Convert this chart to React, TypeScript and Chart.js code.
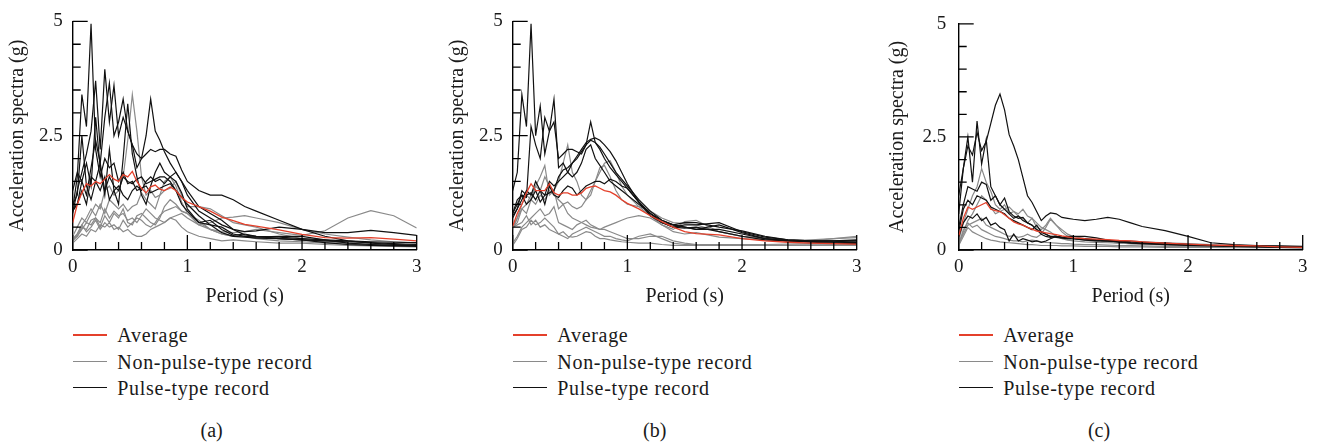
import React, { useEffect, useRef } from "react";
import { Chart, registerables } from "chart.js";

Chart.register(...registerables);

// Periods (s) shared by all records
const PERIODS = [0, 0.04, 0.08, 0.12, 0.16, 0.2, 0.24, 0.28, 0.32, 0.36, 0.4, 0.44, 0.48, 0.52, 0.56, 0.6, 0.64, 0.68, 0.72, 0.76, 0.8, 0.85, 0.9, 0.95, 1.0, 1.1, 1.2, 1.3, 1.4, 1.5, 1.6, 1.8, 2.0, 2.2, 2.4, 2.6, 2.8, 3.0];

const X_TICKS = [0, 1, 2, 3];
const Y_TICKS = [0, 2.5, 5];

const LEGEND_LABELS = ["Average", "Non-pulse-type record", "Pulse-type record"];
const X_TITLE = "Period (s)";
const Y_TITLE = "Acceleration spectra (g)";
const CAPTIONS = ["(a)", "(b)", "(c)"];

// ---------- Panel (a) ----------
const A_AVG = [0.6, 1.0, 1.25, 1.45, 1.4, 1.5, 1.45, 1.55, 1.65, 1.55, 1.5, 1.65, 1.6, 1.72, 1.5, 1.35, 1.25, 1.38, 1.42, 1.33, 1.3, 1.38, 1.3, 1.15, 1.05, 0.95, 0.85, 0.72, 0.64, 0.56, 0.52, 0.44, 0.34, 0.27, 0.26, 0.27, 0.24, 0.2];
const A_PULSE_1 = [0.9, 1.6, 3.4, 2.7, 4.95, 2.2, 1.6, 2.0, 1.8, 1.9, 1.5, 1.7, 1.45, 1.5, 1.3, 1.35, 1.4, 1.25, 1.3, 1.35, 1.4, 1.45, 1.3, 1.15, 1.0, 0.75, 0.55, 0.38, 0.3, 0.28, 0.26, 0.25, 0.22, 0.16, 0.12, 0.1, 0.09, 0.08];
const A_PULSE_2 = [0.8, 1.3, 1.7, 2.1, 2.6, 3.7, 2.2, 3.95, 2.8, 3.6, 2.5, 2.9, 2.6, 2.3, 2.1, 2.0, 2.1, 2.2, 2.15, 2.2, 2.2, 2.1, 2.05, 1.75, 1.5, 1.3, 1.2, 1.2, 1.1, 0.95, 0.85, 0.65, 0.45, 0.3, 0.2, 0.15, 0.12, 0.1];
const A_PULSE_3 = [0.9, 1.0, 1.5, 1.2, 1.8, 2.4, 1.9, 2.9, 3.65, 2.5, 2.8, 3.3, 2.6, 2.3, 1.8, 2.0, 2.5, 3.3, 2.6, 2.4, 2.15, 1.9, 1.7, 1.5, 1.2, 0.85, 0.7, 0.55, 0.45, 0.4, 0.42, 0.5, 0.45, 0.38, 0.38, 0.43, 0.38, 0.32];
const A_PULSE_4 = [1.3, 1.7, 1.5, 1.9, 1.4, 2.9, 1.8, 1.2, 2.2, 1.3, 1.0, 2.0, 3.2, 2.1, 1.6, 1.2, 1.0, 1.4, 1.7, 1.9, 1.7, 1.6, 1.5, 1.25, 0.9, 0.6, 0.55, 0.5, 0.35, 0.3, 0.28, 0.3, 0.3, 0.22, 0.15, 0.12, 0.1, 0.1];
const A_PULSE_5 = [0.85, 1.0, 1.3, 1.0, 1.6, 1.5, 1.9, 1.3, 1.6, 1.4, 1.3, 1.6, 1.5, 1.45, 1.55, 1.6, 1.45, 1.5, 1.55, 1.6, 1.6, 1.5, 1.3, 1.0, 0.85, 0.6, 0.65, 0.45, 0.32, 0.35, 0.3, 0.25, 0.22, 0.2, 0.18, 0.16, 0.14, 0.12];
const A_PULSE_6 = [1.0, 1.2, 2.5, 1.4, 1.1, 1.5, 1.3, 1.6, 1.1, 1.3, 1.4, 1.2, 1.1, 1.3, 1.4, 1.3, 1.5, 1.6, 1.5, 1.55, 1.45, 1.6, 1.7, 1.5, 1.3, 0.95, 0.8, 0.65, 0.45, 0.33, 0.3, 0.28, 0.25, 0.22, 0.2, 0.18, 0.17, 0.16];
const A_NONPULSE_1 = [0.3, 0.5, 0.7, 0.6, 0.8, 1.0, 0.9, 1.3, 1.4, 1.2, 1.3, 1.6, 2.4, 3.4, 2.6, 1.6, 1.2, 1.3, 1.15, 1.2, 1.3, 1.35, 1.5, 1.2, 0.95, 0.95, 0.9, 0.75, 0.6, 0.55, 0.5, 0.35, 0.25, 0.2, 0.15, 0.12, 0.1, 0.08];
const A_NONPULSE_2 = [0.25, 0.3, 0.5, 0.45, 0.65, 0.7, 0.6, 0.9, 0.7, 0.85, 0.75, 0.8, 0.65, 0.7, 0.6, 0.75, 0.9, 0.8, 0.7, 0.65, 0.6, 0.7, 0.75, 0.8, 0.7, 0.55, 0.45, 0.4, 0.38, 0.4, 0.45, 0.38, 0.32, 0.42, 0.7, 0.86, 0.75, 0.48];
const A_NONPULSE_3 = [0.2, 0.35, 0.55, 0.7, 0.9, 0.75, 1.0, 0.8, 1.1, 1.0, 0.9, 1.0, 0.85, 0.95, 1.0, 1.25, 1.1, 1.0, 0.9, 1.2, 1.5, 1.6, 1.4, 1.05, 0.8, 0.55, 0.6, 0.7, 0.72, 0.75, 0.7, 0.6, 0.45, 0.35, 0.28, 0.22, 0.18, 0.15];
const A_NONPULSE_4 = [0.2, 0.3, 0.45, 0.6, 0.55, 0.7, 0.5, 0.75, 0.6, 0.8, 0.7, 0.9, 0.6, 0.55, 0.75, 0.8, 0.7, 0.6, 0.55, 0.7, 0.95, 1.1, 1.0, 0.85, 0.8, 0.65, 0.45, 0.35, 0.3, 0.3, 0.28, 0.25, 0.22, 0.18, 0.15, 0.12, 0.1, 0.09];
const A_NONPULSE_5 = [0.15, 0.25, 0.35, 0.3, 0.45, 0.4, 0.55, 0.5, 0.6, 0.45, 0.5, 0.4, 0.45, 0.35, 0.3, 0.3, 0.35, 0.45, 0.5, 0.55, 0.6, 0.7, 0.65, 0.5, 0.4, 0.3, 0.25, 0.2, 0.22, 0.2, 0.18, 0.15, 0.15, 0.12, 0.1, 0.09, 0.08, 0.07];
const A_NONPULSE_6 = [0.25, 0.35, 0.55, 0.4, 0.5, 0.65, 0.45, 0.6, 0.5, 0.55, 0.45, 0.65, 0.5, 0.6, 0.7, 0.65, 0.55, 0.5, 0.6, 0.75, 0.85, 0.9, 0.95, 0.85, 0.8, 0.6, 0.45, 0.35, 0.3, 0.3, 0.25, 0.2, 0.18, 0.15, 0.13, 0.12, 0.11, 0.1];

// ---------- Panel (b) ----------
const B_AVG = [0.52, 0.8, 1.0, 1.25, 1.45, 1.3, 1.3, 1.3, 1.45, 1.25, 1.2, 1.25, 1.25, 1.2, 1.2, 1.25, 1.35, 1.38, 1.4, 1.35, 1.3, 1.27, 1.2, 1.1, 1.02, 0.9, 0.75, 0.62, 0.5, 0.4, 0.36, 0.33, 0.25, 0.2, 0.17, 0.15, 0.14, 0.13];
const B_PULSE_1 = [1.3, 1.7, 3.4, 2.7, 4.95, 2.5, 3.15, 2.1, 2.6, 3.3, 1.8, 1.9, 1.7, 1.6, 1.7, 1.9, 2.2, 2.3, 2.0, 1.85, 1.7, 1.5, 1.4, 1.3, 1.2, 1.0, 0.8, 0.6, 0.5, 0.48, 0.5, 0.4, 0.3, 0.22, 0.2, 0.18, 0.18, 0.2];
const B_PULSE_2 = [0.7, 0.9, 1.1, 1.3, 1.2, 1.5, 1.3, 1.2, 1.5, 1.4, 1.5, 1.6, 1.7, 1.9, 2.05, 2.2, 2.35, 2.42, 2.45, 2.4, 2.3, 2.15, 1.95, 1.7, 1.45, 1.05, 0.75, 0.6, 0.55, 0.6, 0.6, 0.5, 0.42, 0.3, 0.22, 0.2, 0.2, 0.2];
const B_PULSE_3 = [0.8, 1.0, 1.2, 1.15, 2.7, 2.3, 2.0, 2.9, 2.6, 2.8, 2.0, 2.1, 2.2, 2.2, 2.15, 2.1, 2.3, 2.8, 2.35, 2.2, 2.0, 1.8, 1.65, 1.5, 1.35, 1.05, 0.8, 0.65, 0.55, 0.5, 0.45, 0.55, 0.38, 0.25, 0.2, 0.18, 0.17, 0.16];
const B_PULSE_4 = [0.75, 0.9, 1.3, 1.2, 1.25, 1.1, 1.3, 1.0, 1.4, 1.2, 1.15, 1.3, 1.4, 1.35, 1.2, 1.3, 1.4, 1.45, 1.5, 1.5, 1.45, 1.55, 1.5, 1.4, 1.35, 1.05, 0.8, 0.6, 0.5, 0.55, 0.55, 0.6, 0.4, 0.28, 0.22, 0.2, 0.2, 0.22];
const B_PULSE_5 = [0.8, 1.1, 1.2, 1.0, 1.1, 1.3, 1.05, 1.2, 1.25, 1.3, 1.6, 1.75, 1.8, 1.9, 2.0, 2.15, 2.3, 2.4, 2.35, 2.25, 2.1, 1.9, 1.7, 1.55, 1.4, 1.1, 0.85, 0.65, 0.55, 0.5, 0.45, 0.45, 0.35, 0.25, 0.2, 0.17, 0.15, 0.14];
const B_NONPULSE_1 = [0.5, 0.7, 1.0, 1.2, 1.1, 1.4, 1.3, 1.6, 1.4, 1.3, 1.5, 1.9, 2.3, 1.7, 1.5, 1.2, 1.1, 1.2, 1.5, 1.8, 1.85, 1.6, 1.3, 1.1, 1.0, 0.95, 0.85, 0.7, 0.6, 0.58, 0.55, 0.4, 0.3, 0.25, 0.2, 0.2, 0.25, 0.3];
const B_NONPULSE_2 = [0.5, 0.6, 0.9, 0.8, 1.1, 1.0, 1.2, 1.1, 1.3, 1.2, 1.1, 1.0, 1.05, 0.95, 0.9, 0.95, 1.1, 1.3, 1.5, 1.7, 1.9, 1.95, 1.7, 1.4, 1.2, 0.95, 0.75, 0.55, 0.45, 0.62, 0.65, 0.4, 0.3, 0.25, 0.22, 0.2, 0.2, 0.2];
const B_NONPULSE_3 = [0.15, 0.3, 0.5, 0.6, 0.7, 0.8, 0.9, 0.75, 0.8, 0.95, 0.6, 0.55, 0.5, 0.45, 0.55, 0.6, 0.65, 0.55, 0.5, 0.45, 0.45, 0.4, 0.35, 0.3, 0.25, 0.25, 0.3, 0.3, 0.2, 0.15, 0.12, 0.12, 0.12, 0.12, 0.13, 0.14, 0.15, 0.17];
const B_NONPULSE_4 = [0.1, 0.25, 0.45, 0.5, 0.65, 0.55, 0.6, 0.7, 0.6, 0.5, 0.35, 0.3, 0.25, 0.35, 0.4, 0.45, 0.5, 0.45, 0.4, 0.35, 0.3, 0.3, 0.25, 0.22, 0.2, 0.3, 0.35, 0.25, 0.15, 0.12, 0.12, 0.11, 0.1, 0.1, 0.1, 0.11, 0.12, 0.12];
const B_NONPULSE_5 = [0.5, 0.55, 0.6, 0.75, 0.55, 0.65, 0.5, 0.55, 0.45, 0.4, 0.35, 0.4, 0.3, 0.28, 0.3, 0.35, 0.4, 0.38, 0.3, 0.25, 0.25, 0.22, 0.2, 0.18, 0.17, 0.15, 0.15, 0.12, 0.1, 0.1, 0.1, 0.1, 0.1, 0.1, 0.1, 0.1, 0.1, 0.1];
const B_NONPULSE_6 = [0.45, 0.7, 0.9, 1.0, 1.2, 1.4, 1.6, 1.85, 1.2, 1.3, 0.9, 1.0, 0.8, 0.7, 0.65, 0.6, 0.55, 0.5, 0.48, 0.45, 0.5, 0.55, 0.6, 0.65, 0.7, 0.75, 0.7, 0.55, 0.4, 0.35, 0.38, 0.28, 0.25, 0.22, 0.2, 0.22, 0.25, 0.27];

// ---------- Panel (c) ----------
const C_AVG = [0.3, 0.7, 0.95, 0.9, 0.95, 1.0, 1.05, 0.9, 0.87, 0.85, 0.78, 0.7, 0.62, 0.58, 0.55, 0.5, 0.46, 0.42, 0.4, 0.38, 0.36, 0.34, 0.31, 0.29, 0.27, 0.25, 0.24, 0.23, 0.21, 0.2, 0.18, 0.15, 0.13, 0.11, 0.1, 0.09, 0.07, 0.06];
const C_PULSE_1 = [1.2, 1.8, 2.3, 2.1, 2.6, 2.2, 2.4, 2.8, 3.2, 3.45, 3.1, 2.55, 2.3, 2.0, 1.6, 1.2, 1.05, 0.85, 0.65, 0.75, 0.82, 0.8, 0.72, 0.7, 0.68, 0.65, 0.68, 0.72, 0.68, 0.6, 0.52, 0.43, 0.3, 0.16, 0.12, 0.1, 0.09, 0.08];
const C_PULSE_2 = [0.8, 1.8, 2.5, 1.5, 2.85, 1.9, 2.45, 1.4, 1.2, 1.0, 0.9, 0.8, 0.7, 0.75, 0.65, 0.6, 0.55, 0.45, 0.35, 0.3, 0.28, 0.3, 0.28, 0.25, 0.25, 0.22, 0.2, 0.2, 0.2, 0.18, 0.17, 0.15, 0.12, 0.1, 0.09, 0.08, 0.07, 0.06];
const C_PULSE_3 = [0.5, 1.0, 1.4, 1.35, 1.3, 1.5, 1.45, 1.1, 1.2, 1.0, 1.15, 0.85, 0.75, 0.7, 0.72, 0.6, 0.55, 0.45, 0.4, 0.35, 0.3, 0.3, 0.28, 0.27, 0.26, 0.25, 0.22, 0.2, 0.18, 0.16, 0.15, 0.13, 0.12, 0.1, 0.09, 0.08, 0.07, 0.06];
const C_PULSE_4 = [0.4, 0.9, 1.1, 1.0, 1.2, 1.15, 1.1, 0.95, 0.9, 0.85, 0.8, 0.7, 0.65, 0.6, 0.55, 0.5, 0.45, 0.55, 0.4, 0.35, 0.3, 0.28, 0.26, 0.25, 0.25, 0.24, 0.22, 0.2, 0.18, 0.16, 0.15, 0.14, 0.12, 0.1, 0.09, 0.08, 0.07, 0.06];
const C_PULSE_5 = [0.3, 0.6, 0.75, 0.7, 0.8, 0.65, 0.72, 0.55, 0.6, 0.5, 0.45, 0.2, 0.35, 0.2, 0.25, 0.22, 0.18, 0.2, 0.17, 0.2, 0.25, 0.3, 0.28, 0.3, 0.3, 0.3, 0.27, 0.22, 0.18, 0.15, 0.14, 0.12, 0.1, 0.09, 0.08, 0.07, 0.06, 0.05];
const C_NONPULSE_1 = [0.2, 0.6, 0.9, 1.2, 1.4, 1.8, 1.5, 1.3, 1.0, 0.9, 1.0, 0.8, 0.85, 0.75, 0.7, 0.6, 0.7, 0.5, 0.45, 0.55, 0.7, 0.55, 0.45, 0.35, 0.3, 0.25, 0.2, 0.18, 0.15, 0.14, 0.13, 0.12, 0.1, 0.09, 0.08, 0.07, 0.06, 0.05];
const C_NONPULSE_2 = [0.15, 0.4, 0.65, 0.8, 1.0, 1.2, 1.1, 0.95, 0.8, 0.85, 0.9, 0.95, 0.85, 0.8, 0.9, 0.75, 0.7, 0.6, 0.5, 0.45, 0.4, 0.3, 0.25, 0.22, 0.2, 0.18, 0.17, 0.16, 0.15, 0.14, 0.13, 0.12, 0.1, 0.09, 0.08, 0.07, 0.07, 0.06];
const C_NONPULSE_3 = [0.1, 0.45, 0.6, 0.5, 0.55, 0.45, 0.4, 0.35, 0.3, 0.28, 0.25, 0.22, 0.2, 0.2, 0.18, 0.2, 0.22, 0.2, 0.18, 0.17, 0.16, 0.15, 0.14, 0.14, 0.13, 0.12, 0.12, 0.11, 0.1, 0.1, 0.09, 0.08, 0.08, 0.07, 0.07, 0.06, 0.06, 0.05];
const C_NONPULSE_4 = [0.1, 0.3, 0.5, 0.4, 0.35, 0.3, 0.25, 0.22, 0.2, 0.18, 0.17, 0.16, 0.15, 0.14, 0.13, 0.12, 0.12, 0.11, 0.1, 0.1, 0.1, 0.1, 0.09, 0.09, 0.09, 0.08, 0.08, 0.08, 0.07, 0.07, 0.07, 0.06, 0.06, 0.06, 0.05, 0.05, 0.05, 0.05];
const C_NONPULSE_5 = [0.15, 0.35, 0.55, 0.6, 0.65, 0.7, 0.55, 0.5, 0.45, 0.4, 0.35, 0.3, 0.32, 0.28, 0.3, 0.35, 0.3, 0.28, 0.35, 0.5, 0.68, 0.55, 0.4, 0.3, 0.25, 0.22, 0.2, 0.2, 0.19, 0.2, 0.18, 0.16, 0.14, 0.12, 0.1, 0.09, 0.08, 0.07];

const AVG_COLOR = "#e4402b";
const NONPULSE_COLOR = "#8a8a8a";
const PULSE_COLOR = "#111111";
const AXIS_COLOR = "#000000";
const TEXT_COLOR = "#1a1a1a";
const FONT = "'Liberation Serif', 'Times New Roman', serif";

type PanelSpec = {
  canvasLeft: number;
  canvasWidth: number;
  yAxisWidth: number;
  yTickPad: number;
  padRight: number;
  captionX: number;
  caption: string;
  avg: number[];
  pulse: number[][];
  nonPulse: number[][];
};

const PANELS: PanelSpec[] = [
  { canvasLeft: 0, canvasWidth: 440, yAxisWidth: 72.7, yTickPad: 10, padRight: 23.3, captionX: 211.7, caption: CAPTIONS[0], avg: A_AVG,
    pulse: [A_PULSE_1, A_PULSE_2, A_PULSE_3, A_PULSE_4, A_PULSE_5, A_PULSE_6],
    nonPulse: [A_NONPULSE_1, A_NONPULSE_2, A_NONPULSE_3, A_NONPULSE_4, A_NONPULSE_5, A_NONPULSE_6] },
  { canvasLeft: 440, canvasWidth: 440, yAxisWidth: 72.7, yTickPad: 10, padRight: 23.3, captionX: 654.7, caption: CAPTIONS[1], avg: B_AVG,
    pulse: [B_PULSE_1, B_PULSE_2, B_PULSE_3, B_PULSE_4, B_PULSE_5],
    nonPulse: [B_NONPULSE_1, B_NONPULSE_2, B_NONPULSE_3, B_NONPULSE_4, B_NONPULSE_5, B_NONPULSE_6] },
  { canvasLeft: 880, canvasWidth: 439, yAxisWidth: 78.7, yTickPad: 12.5, padRight: 16.3, captionX: 1099, caption: CAPTIONS[2], avg: C_AVG,
    pulse: [C_PULSE_1, C_PULSE_2, C_PULSE_3, C_PULSE_4, C_PULSE_5],
    nonPulse: [C_NONPULSE_1, C_NONPULSE_2, C_NONPULSE_3, C_NONPULSE_4, C_NONPULSE_5] },
];

const CANVAS_HEIGHT = 313;

const innerTicks = {
  id: "innerTicks",
  afterDatasetsDraw(chart: any) {
    const { ctx, chartArea, scales } = chart;
    const xs = scales.x;
    const ys = scales.y;
    ctx.save();
    ctx.strokeStyle = AXIS_COLOR;
    ctx.lineWidth = 1.3;
    ctx.beginPath();
    for (let i = 0; i <= 15; i++) {
      const px = xs.getPixelForValue(i * 0.2);
      const len = i % 5 === 0 ? 15 : 8;
      ctx.moveTo(px, chartArea.bottom);
      ctx.lineTo(px, chartArea.bottom - len);
    }
    for (let i = 0; i <= 10; i++) {
      const py = ys.getPixelForValue(i * 0.5);
      const len = i % 5 === 0 ? 15 : 8;
      ctx.moveTo(chartArea.left, py);
      ctx.lineTo(chartArea.left + len, py);
    }
    ctx.stroke();
    ctx.restore();
  },
};

function Panel({ spec }: { spec: PanelSpec }) {
  const ref = useRef<HTMLCanvasElement>(null);
  useEffect(() => {
    if (!ref.current) return;
    const pts = (arr: number[]) => arr.map((y, i) => ({ x: PERIODS[i], y }));
    const datasets: any[] = [
      { label: LEGEND_LABELS[0], data: pts(spec.avg), borderColor: AVG_COLOR, borderWidth: 1.3, order: 0 },
      ...spec.pulse.map((d, i) => ({ label: `${LEGEND_LABELS[2]} ${i + 1}`, data: pts(d), borderColor: PULSE_COLOR, borderWidth: 1.2, order: 1 })),
      ...spec.nonPulse.map((d, i) => ({ label: `${LEGEND_LABELS[1]} ${i + 1}`, data: pts(d), borderColor: NONPULSE_COLOR, borderWidth: 1.2, order: 2 })),
    ];
    const chart = new Chart(ref.current, {
      type: "line",
      data: { datasets },
      options: {
        responsive: false,
        animation: false,
        events: [],
        layout: { padding: { top: 16, right: spec.padRight, bottom: 0, left: 0 } },
        elements: { point: { radius: 0 }, line: { tension: 0, fill: false } },
        plugins: { legend: { display: false }, tooltip: { enabled: false } },
        scales: {
          x: {
            type: "linear",
            min: 0,
            max: 3,
            afterFit: (s: any) => { s.height = 63; },
            afterBuildTicks: (s: any) => { s.ticks = X_TICKS.map((v) => ({ value: v })); },
            ticks: { autoSkip: false, maxRotation: 0, padding: 6, color: TEXT_COLOR, font: { family: FONT, size: 19 }, callback: (v: any) => String(v) },
            grid: { display: false, drawTicks: false },
            border: { display: true, color: AXIS_COLOR, width: 1.4 },
            title: { display: true, text: X_TITLE, color: TEXT_COLOR, font: { family: FONT, size: 20 }, padding: { top: 4, bottom: 4 } },
          },
          y: {
            type: "linear",
            min: 0,
            max: 5,
            afterFit: (s: any) => { s.width = spec.yAxisWidth; },
            afterBuildTicks: (s: any) => { s.ticks = Y_TICKS.map((v) => ({ value: v })); },
            ticks: { padding: spec.yTickPad, color: TEXT_COLOR, font: { family: FONT, size: 19 }, callback: (v: any) => String(v) },
            grid: { display: false, drawTicks: false },
            border: { display: true, color: AXIS_COLOR, width: 1.4 },
            title: { display: true, text: Y_TITLE, color: TEXT_COLOR, font: { family: FONT, size: 20 }, padding: { top: 6, bottom: 0 } },
          },
        },
      } as any,
      plugins: [innerTicks],
    });
    return () => chart.destroy();
  }, [spec]);

  const axisX = spec.canvasLeft + spec.yAxisWidth;
  const legendColors = [AVG_COLOR, NONPULSE_COLOR, PULSE_COLOR];
  const legendY = [335, 361.7, 387.7];
  return (
    <>
      <canvas
        ref={ref}
        width={spec.canvasWidth}
        height={CANVAS_HEIGHT}
        style={{ position: "absolute", left: spec.canvasLeft, top: 0, width: spec.canvasWidth, height: CANVAS_HEIGHT }}
      />
      {LEGEND_LABELS.map((label, i) => (
        <React.Fragment key={label}>
          <div style={{ position: "absolute", left: axisX, top: legendY[i] - 0.75, width: 34, height: 1.5, backgroundColor: legendColors[i] }} />
          <div style={{ position: "absolute", left: axisX + 44.6, top: legendY[i] - 11, height: 22, lineHeight: "22px", whiteSpace: "nowrap", fontFamily: FONT, fontSize: 20, color: TEXT_COLOR, letterSpacing: "0.7px" }}>
            {label}
          </div>
        </React.Fragment>
      ))}
      <div style={{ position: "absolute", left: spec.captionX, top: 419, transform: "translateX(-50%)", fontFamily: FONT, fontSize: 20, lineHeight: "22px", color: TEXT_COLOR }}>
        {spec.caption}
      </div>
    </>
  );
}

export default function App() {
  return (
    <div style={{ position: "absolute", left: 0, top: 0, width: 1319, height: 443, background: "#fff", overflow: "hidden" }}>
      {PANELS.map((p) => (
        <Panel key={p.caption} spec={p} />
      ))}
    </div>
  );
}
